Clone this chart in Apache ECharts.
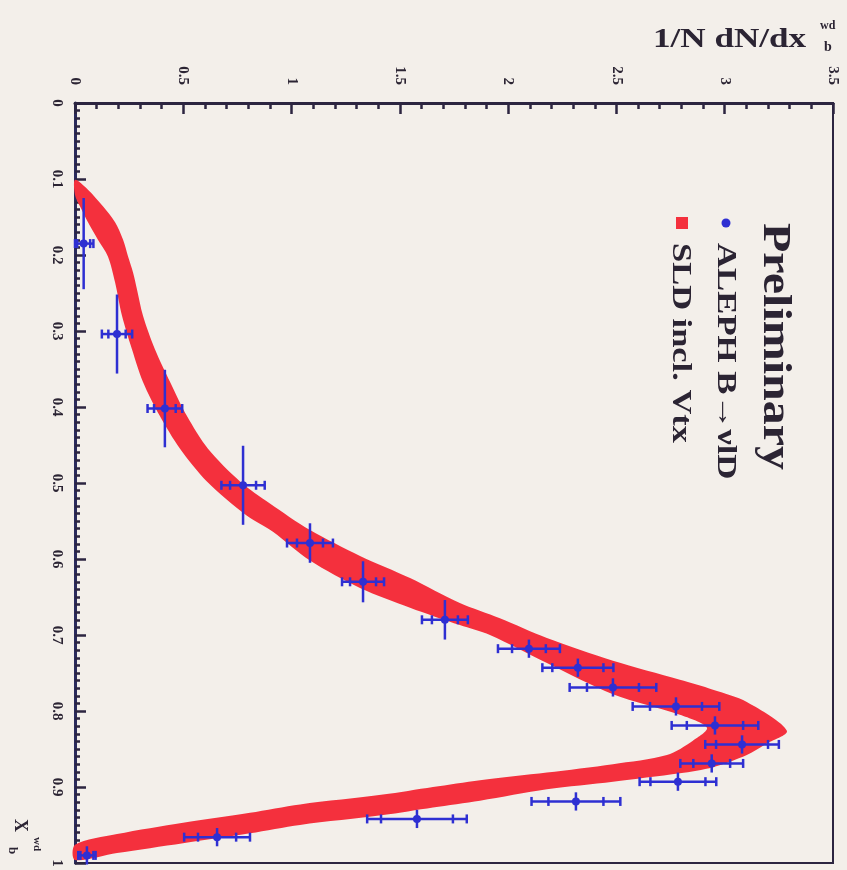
<!DOCTYPE html>
<html>
<head>
<meta charset="utf-8">
<title>x_b^wd spectrum</title>
<script src="https://cdn.jsdelivr.net/npm/echarts@6/dist/echarts.min.js"></script>
<style>
  html, body { margin: 0; padding: 0; background: #f3efea; }
  #chart { width: 847px; height: 870px; }
</style>
</head>
<body>
<div id="chart"></div>
<script>
// axis ticks (1/N dN/dx across the top, x_b down the left side)
const valueTicks = [0, 0.5, 1, 1.5, 2, 2.5, 3, 3.5];
const xbTicks = [0, 0.1, 0.2, 0.3, 0.4, 0.5, 0.6, 0.7, 0.8, 0.9, 1];

// ALEPH B -> vlD points
const alephXb = [0.185, 0.304, 0.402, 0.503, 0.579, 0.630, 0.680, 0.718, 0.743, 0.769, 0.794, 0.819, 0.844, 0.869, 0.893, 0.919, 0.942, 0.966, 0.990];
const alephXbErr = [0.06, 0.052, 0.051, 0.052, 0.026, 0.027, 0.026, 0.012, 0.012, 0.012, 0.012, 0.012, 0.012, 0.012, 0.012, 0.012, 0.012, 0.012, 0.012];
const alephVal = [0.04, 0.194, 0.415, 0.776, 1.085, 1.33, 1.708, 2.096, 2.322, 2.484, 2.775, 2.955, 3.08, 2.94, 2.784, 2.313, 1.579, 0.656, 0.055];
const alephStat = [0.03, 0.04, 0.05, 0.06, 0.06, 0.06, 0.06, 0.078, 0.118, 0.12, 0.12, 0.13, 0.12, 0.085, 0.127, 0.127, 0.166, 0.088, 0.03];
const alephTot = [0.045, 0.07, 0.08, 0.1, 0.106, 0.097, 0.106, 0.143, 0.164, 0.2, 0.2, 0.2, 0.17, 0.145, 0.177, 0.205, 0.23, 0.152, 0.04];

// SLD incl. Vtx band, [value, x_b] along both edges, top to bottom
const sldOuterEdge = [
  [0.000, 0.101], [0.060, 0.114], [0.129, 0.136], [0.185, 0.157], [0.222, 0.180], [0.245, 0.202],
  [0.268, 0.223], [0.286, 0.245], [0.314, 0.280], [0.369, 0.324], [0.439, 0.367], [0.517, 0.412],
  [0.614, 0.455], [0.762, 0.498], [0.900, 0.527], [1.085, 0.562], [1.316, 0.596], [1.547, 0.625],
  [1.777, 0.658], [1.962, 0.678], [2.179, 0.704], [2.484, 0.734], [2.793, 0.759], [2.946, 0.772],
  [3.102, 0.788], [3.287, 0.826], [3.186, 0.844], [3.102, 0.858], [2.946, 0.874], [2.793, 0.882],
  [2.484, 0.893], [2.179, 0.903], [1.870, 0.918], [1.653, 0.927], [1.422, 0.937], [1.039, 0.950],
  [0.808, 0.961], [0.499, 0.974], [0.194, 0.987], [0.000, 0.996]
];
const sldInnerEdge = [
  [0.000, 0.121], [0.023, 0.136], [0.060, 0.157], [0.106, 0.180], [0.152, 0.202], [0.185, 0.236],
  [0.217, 0.280], [0.263, 0.324], [0.314, 0.367], [0.392, 0.412], [0.485, 0.455], [0.609, 0.498],
  [0.794, 0.543], [0.914, 0.564], [1.085, 0.602], [1.316, 0.638], [1.547, 0.664], [1.777, 0.687],
  [1.916, 0.700], [2.179, 0.737], [2.484, 0.778], [2.793, 0.805], [2.918, 0.822], [2.853, 0.839],
  [2.733, 0.858], [2.484, 0.870], [2.179, 0.881], [1.870, 0.891], [1.653, 0.900], [1.422, 0.910],
  [1.039, 0.923], [0.808, 0.934], [0.499, 0.947], [0.194, 0.962], [0.000, 0.976]
];

const FRAME = '#2c2540';
const INK = '#2b2433';
const BLUE = '#2e2fd2';
const RED = '#f4303d';
const SERIF = '"Liberation Serif", "DejaVu Serif", serif';

const chart = echarts.init(document.getElementById('chart'));

// punti con barre d'errore
const alephData = alephVal.map((v, i) => [v, alephXb[i], alephXbErr[i], alephStat[i], alephTot[i]]);
const bandOutline = sldOuterEdge.concat(sldInnerEdge.slice().reverse());

const tickStyle = { color: FRAME, width: 2.5 };
const labelStyle = { color: INK, fontFamily: SERIF, fontWeight: 'bold', fontSize: 15 };

chart.setOption({
  backgroundColor: '#f3efea',
  animation: false,
  grid: {
    left: 75, right: 14, top: 103, bottom: 7,
    show: true, borderColor: FRAME, borderWidth: 2, backgroundColor: 'transparent'
  },
  xAxis: {
    type: 'value',
    position: 'top',
    min: valueTicks[0],
    max: valueTicks[valueTicks.length - 1],
    interval: valueTicks[1] - valueTicks[0],
    axisLine: { show: true, lineStyle: { color: FRAME, width: 3 } },
    axisTick: { inside: true, length: 11, lineStyle: tickStyle },
    minorTick: { show: true, splitNumber: 5, length: 6, lineStyle: tickStyle },
    axisLabel: Object.assign({ rotate: -90, margin: 18 }, labelStyle),
    splitLine: { show: false }
  },
  yAxis: {
    type: 'value',
    inverse: true,
    min: xbTicks[0],
    max: xbTicks[xbTicks.length - 1],
    interval: xbTicks[1] - xbTicks[0],
    axisLine: { show: true, lineStyle: { color: '#2a2a5c', width: 3 } },
    axisTick: { inside: true, length: 11, lineStyle: tickStyle },
    minorTick: { show: true, splitNumber: 10, length: 5, lineStyle: tickStyle },
    axisLabel: Object.assign({ rotate: -90, margin: 11 }, labelStyle),
    splitLine: { show: false }
  },
  graphic: [
    // titolo asse valori
    { type: 'text', x: 653, y: 54, scaleX: 1.3,
      style: { text: '1/N dN/dx', fill: INK, font: 'bold 27px ' + SERIF, textVerticalAlign: 'bottom', verticalAlign: 'bottom' } },
    { type: 'text', x: 820, y: 32, style: { text: 'wd', fill: INK, font: 'bold 12px ' + SERIF, textVerticalAlign: 'bottom', verticalAlign: 'bottom' } },
    { type: 'text', x: 824, y: 54, style: { text: 'b', fill: INK, font: 'bold 14px ' + SERIF, textVerticalAlign: 'bottom', verticalAlign: 'bottom' } },
    // titolo asse x_b (ruotato)
    { type: 'text', x: 20, y: 819, rotation: -Math.PI / 2,
      style: { text: 'X', fill: INK, font: 'bold 18px ' + SERIF, textVerticalAlign: 'middle', verticalAlign: 'middle' } },
    { type: 'text', x: 37, y: 837, rotation: -Math.PI / 2,
      style: { text: 'wd', fill: INK, font: 'bold 11px ' + SERIF, textVerticalAlign: 'middle', verticalAlign: 'middle' } },
    { type: 'text', x: 12, y: 847, rotation: -Math.PI / 2,
      style: { text: 'b', fill: INK, font: 'bold 13px ' + SERIF, textVerticalAlign: 'middle', verticalAlign: 'middle' } },
    // legenda
    { type: 'text', x: 774, y: 223, rotation: -Math.PI / 2, scaleX: 1.2,
      style: { text: 'Preliminary', fill: INK, font: 'bold 40px ' + SERIF, textVerticalAlign: 'middle', verticalAlign: 'middle' } },
    { type: 'circle', shape: { cx: 726, cy: 223, r: 4.5 }, style: { fill: BLUE } },
    { type: 'text', x: 725, y: 243, rotation: -Math.PI / 2, scaleX: 1.24,
      style: { text: 'ALEPH B→νlD', fill: INK, font: 'bold 28px ' + SERIF, textVerticalAlign: 'middle', verticalAlign: 'middle' } },
    { type: 'rect', shape: { x: 676, y: 217, width: 12, height: 12 }, style: { fill: RED } },
    { type: 'text', x: 680, y: 243, rotation: -Math.PI / 2, scaleX: 1.23,
      style: { text: 'SLD incl. Vtx', fill: INK, font: 'bold 28px ' + SERIF, textVerticalAlign: 'middle', verticalAlign: 'middle' } }
  ],
  series: [
    {
      name: 'SLD incl. Vtx',
      type: 'custom',
      z: 2,
      data: [0],
      renderItem: function (params, api) {
        const pts = bandOutline.map((p) => api.coord(p));
        return {
          type: 'polygon',
          shape: { points: pts, smooth: 0.3 },
          style: { fill: RED }
        };
      }
    },
    {
      name: 'ALEPH B→νlD',
      type: 'custom',
      z: 3,
      data: alephData,
      renderItem: function (params, api) {
        const v = api.value(0);
        const xb = api.value(1);
        const dxb = api.value(2);
        const ei = api.value(3);
        const eo = api.value(4);
        const c = api.coord([v, xb]);
        const l = api.coord([Math.max(v - eo, 0), xb]);
        const r = api.coord([v + eo, xb]);
        const li = api.coord([Math.max(v - ei, 0), xb]);
        const ri = api.coord([v + ei, xb]);
        const t = api.coord([v, xb - dxb]);
        const b = api.coord([v, xb + dxb]);
        const st = { stroke: BLUE, lineWidth: 2.5 };
        const cap = 4.5;
        const children = [
          { type: 'line', shape: { x1: l[0], y1: c[1], x2: r[0], y2: c[1] }, style: st },
          { type: 'line', shape: { x1: c[0], y1: t[1], x2: c[0], y2: b[1] }, style: st }
        ];
        [l, r, li, ri].forEach((p) => {
          children.push({ type: 'line', shape: { x1: p[0], y1: c[1] - cap, x2: p[0], y2: c[1] + cap }, style: st });
        });
        children.push({ type: 'circle', shape: { cx: c[0], cy: c[1], r: 4 }, style: { fill: BLUE } });
        return { type: 'group', children: children };
      }
    }
  ]
});
</script>
</body>
</html>
